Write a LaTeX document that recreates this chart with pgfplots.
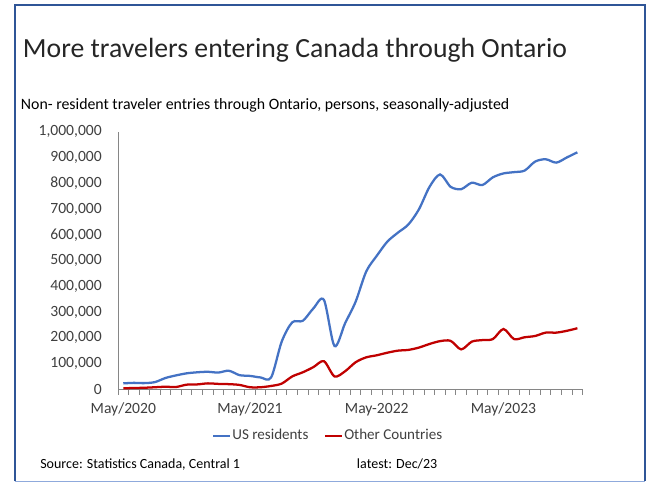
\documentclass[border=0pt]{standalone}
\usepackage{pgfplots}
\pgfplotsset{compat=1.18}
\usepackage{pgfplotstable}
\usepackage{fontspec}
\setmainfont{Carlito}
\definecolor{usblue}{HTML}{4472C4}
\definecolor{othred}{HTML}{C00000}
\definecolor{txt}{HTML}{404040}
\definecolor{framec}{HTML}{2F5597}
\definecolor{axisgray}{HTML}{868686}

\pgfplotstableread{
i us
0 23000
1 25000
2 24000
3 28000
4 44000
5 54000
6 62000
7 66000
8 68000
9 65000
10 72000
11 55000
12 52000
13 46000
14 46000
15 185000
16 260000
17 266000
18 314000
19 347000
20 168000
21 256000
22 340000
23 457000
24 518000
25 573000
26 608000
27 640000
28 699000
29 786000
30 834000
31 786000
32 777000
33 802000
34 793000
35 823000
36 838000
37 843000
38 849000
39 884000
40 893000
41 880000
42 900000
43 920000
}\ustable

\pgfplotstableread{
i oth
0 4000
1 5000
2 6000
3 8000
4 10000
5 9000
6 18000
7 19000
8 23000
9 21000
10 20000
11 17000
12 8000
13 8000
14 13000
15 22000
16 50000
17 66000
18 86000
19 109000
20 50000
21 70000
22 105000
23 124000
24 132000
25 142000
26 150000
27 153000
28 162000
29 176000
30 187000
31 188000
32 155000
33 185000
34 191000
35 195000
36 234000
37 195000
38 202000
39 207000
40 220000
41 220000
42 227000
43 237000
}\othtable

\begin{document}
\begin{tikzpicture}
\begin{scope}[x=0.75pt,y=0.75pt]
\path[use as bounding box] (0,0) rectangle (652,485);
\fill[white] (0,0) rectangle (652,485);
\draw[color={rgb,255:red,143;green,170;blue,220}, line width=0.75pt] (14.5,4) -- (644.5,4);
\draw[framec, line width=1.5pt] (14.5,4) -- (14.5,480) -- (644.5,480) -- (644.5,4);

\node[anchor=base west, inner sep=0, text={rgb,255:red,38;green,38;blue,38}, font=\fontsize{20.8}{24}\selectfont] at (22.7,427) {More travelers entering Canada through Ontario};
\node[anchor=base west, inner sep=0, text=black, font=\fontsize{11.87}{14}\selectfont] at (20.7,375) {Non- resident traveler entries through Ontario, persons, seasonally-adjusted};
\node[anchor=base west, inner sep=0, text=black, font=\fontsize{10.5}{13}\selectfont] at (40,17) {Source: Statistics Canada, Central 1};
\node[anchor=base west, inner sep=0, text=black, font=\fontsize{10.5}{13}\selectfont] at (356.7,17) {latest: Dec/23};
\end{scope}

\begin{axis}[
  at={(88.5pt,71.775pt)}, anchor=south west,
  scale only axis, width=348.5pt, height=193.2pt,
  xmin=-0.5, xmax=43.5, ymin=0, ymax=1000000,
  axis x line=bottom, axis y line=left,
  axis line style={-, axisgray, line width=0.75pt},
  xtick={0,12,24,36},
  xticklabels={May/2020, May/2021, May-2022, May/2023},
  extra x ticks={-0.5,0.5,...,43.5},
  extra x tick labels={},
  extra x tick style={major tick length=4pt, tick align=outside, tick style={axisgray, line width=0.75pt}},
  major tick length=0pt,
  ytick={0,100000,...,1000000},
  scaled y ticks=false,
  /pgf/number format/fixed,
  /pgf/number format/1000 sep={,},
  /pgf/number format/assume math mode=true,
  yticklabel style={anchor=east, inner sep=0pt, xshift=-12pt},
  xticklabel style={anchor=north, inner sep=0pt, yshift=-10pt},
  tick label style={font=\fontsize{11.7}{13}\selectfont, text=txt},
  legend style={at={(0.4508,-0.180)}, anchor=center, draw=none, fill=none, legend columns=2,
    font=\fontsize{11.3}{13}\selectfont, text=txt,
    nodes={inner sep=0.6pt},
    /tikz/every even column/.append style={column sep=11pt}},
  legend image code/.code={\draw[#1, line width=1.7pt] (0pt,0pt) -- (13pt,0pt);},
  legend cell align=left,
  clip=false,
]
\addplot[usblue, line width=1.7pt, smooth, tension=0.5] table[x=i, y=us] {\ustable};
\addlegendentry{US residents}
\addplot[othred, line width=1.7pt, smooth, tension=0.5] table[x=i, y=oth] {\othtable};
\addlegendentry{Other Countries}
\end{axis}
\end{tikzpicture}
\end{document}
